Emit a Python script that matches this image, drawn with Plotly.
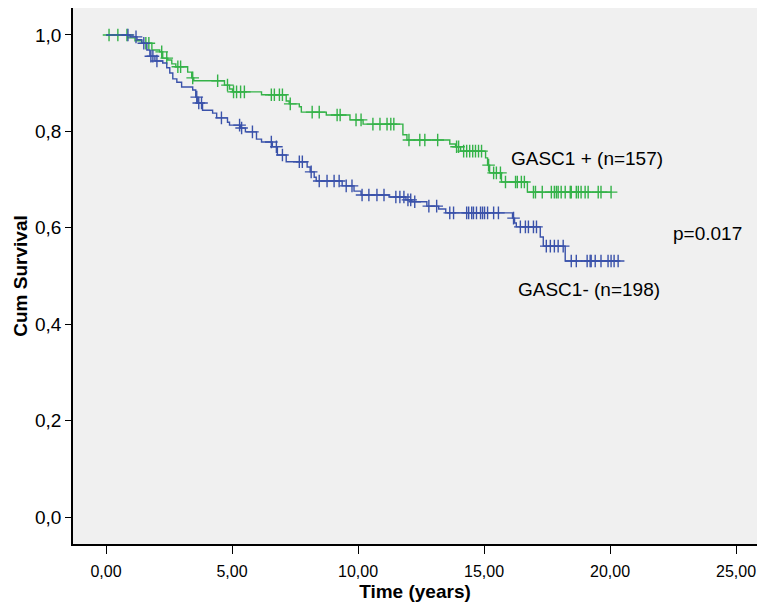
import numpy as np
import plotly.graph_objects as go

# GASC1 + (n=157): Kaplan-Meier step points (time in years, cumulative survival)
pos_time = [0.0, 0.87, 1.15, 1.42, 1.82, 2.13, 2.25, 2.45, 2.61, 2.77, 3.24, 3.40, 3.48,
            4.70, 4.90, 5.02, 6.17, 7.15, 7.27, 7.67, 7.75, 8.74, 9.68, 10.20, 11.78, 11.94,
            13.64, 13.87, 14.07, 15.06, 15.14, 15.22, 15.69, 16.72]
pos_surv = [1.0, 0.994, 0.988, 0.983, 0.969, 0.965, 0.952, 0.948, 0.940, 0.934, 0.923, 0.911, 0.905,
            0.896, 0.888, 0.882, 0.876, 0.863, 0.857, 0.851, 0.840, 0.834, 0.824, 0.815, 0.793, 0.782,
            0.774, 0.768, 0.759, 0.745, 0.730, 0.714, 0.695, 0.674]
pos_censored = [0.12, 0.47, 0.83, 1.58, 1.70, 2.21, 2.41, 2.85, 2.96, 3.44, 4.43, 4.82, 5.06, 5.18,
                5.34, 5.49, 6.56, 6.68, 6.88, 7.00, 7.31, 8.18, 8.46, 9.17, 9.29, 9.92, 10.12, 10.59,
                10.87, 11.15, 11.30, 11.42, 12.02, 12.45, 12.65, 13.16, 13.91, 13.99, 14.19, 14.31,
                14.43, 14.55, 14.66, 14.78, 14.90, 15.18, 15.38, 15.49, 15.65, 15.85, 16.25, 16.32,
                16.48, 16.60, 16.96, 17.04, 17.31, 17.67, 17.79, 17.87, 17.94, 18.06, 18.22, 18.42,
                18.46, 18.66, 18.74, 18.85, 19.01, 19.13, 19.53, 19.64, 20.04]

# GASC1- (n=198)
neg_time = [0.0, 0.95, 1.23, 1.42, 1.62, 1.74, 1.94, 2.25, 2.41, 2.53, 2.65, 2.81, 3.00, 3.44,
            3.56, 3.64, 3.83, 4.23, 4.39, 4.82, 4.90, 5.34, 5.53, 5.97, 6.17, 6.60, 6.80, 7.15,
            7.98, 8.10, 8.26, 8.34, 9.37, 9.84, 10.12, 11.23, 11.90, 12.13, 12.73, 13.20, 13.48,
            16.13, 16.21, 16.28, 17.23, 17.35, 18.22]
neg_surv = [1.0, 0.996, 0.990, 0.983, 0.969, 0.956, 0.946, 0.942, 0.932, 0.921, 0.909, 0.902, 0.892, 0.886,
            0.871, 0.859, 0.844, 0.838, 0.828, 0.819, 0.813, 0.807, 0.799, 0.784, 0.778, 0.768, 0.751, 0.737,
            0.726, 0.716, 0.705, 0.697, 0.687, 0.676, 0.668, 0.664, 0.658, 0.654, 0.645, 0.639, 0.631,
            0.620, 0.610, 0.602, 0.581, 0.562, 0.531]
neg_censored = [0.87, 1.19, 1.50, 1.78, 1.86, 2.02, 3.60, 3.68, 3.79, 4.58, 5.30, 5.38, 5.81, 6.56,
                6.76, 7.00, 7.67, 7.79, 8.14, 8.46, 8.77, 9.05, 9.25, 9.53, 9.76, 10.16, 10.43, 10.75,
                11.03, 11.50, 11.66, 11.82, 11.98, 12.09, 12.25, 12.81, 13.12, 13.64, 13.79, 14.31,
                14.39, 14.51, 14.58, 14.70, 14.86, 14.94, 15.02, 15.14, 15.38, 15.57, 16.17, 16.44,
                16.64, 16.76, 16.96, 17.08, 17.47, 17.63, 17.79, 17.94, 18.14, 18.46, 18.66, 19.09,
                19.21, 19.25, 19.41, 19.64, 19.92, 20.04, 20.16, 20.32]

x_tickvals = [0, 5, 10, 15, 20, 25]
x_ticktext = ["0,00", "5,00", "10,00", "15,00", "20,00", "25,00"]
y_tickvals = [0.0, 0.2, 0.4, 0.6, 0.8, 1.0]
y_ticktext = ["0,0", "0,2", "0,4", "0,6", "0,8", "1,0"]

GREEN = "rgb(52,178,72)"
BLUE = "rgb(58,82,170)"


def km_value(times, survs, t):
    idx = np.searchsorted(np.array(times), t, side="right") - 1
    return float(np.array(survs)[idx])


def add_group(fig, times, survs, censored, color):
    end_t = max(times[-1], max(censored))
    xs = list(times) + [end_t]
    ys = list(survs) + [survs[-1]]
    fig.add_trace(go.Scatter(x=xs, y=ys, mode="lines", line=dict(color=color, width=1.4, shape="hv"),
                             hoverinfo="skip", showlegend=False))
    cy = [km_value(times, survs, t) for t in censored]
    fig.add_trace(go.Scatter(x=censored, y=cy, mode="markers",
                             marker=dict(symbol="cross-thin", size=9, line=dict(color=color, width=1.4)),
                             hoverinfo="skip", showlegend=False))


fig = go.Figure()
add_group(fig, pos_time, pos_surv, pos_censored, GREEN)
add_group(fig, neg_time, neg_surv, neg_censored, BLUE)

font_main = "Liberation Sans, Arial, sans-serif"

fig.add_annotation(x=15.97, y=0.743, text="GASC1 + (n=157)", showarrow=False, xanchor="left",
                   yanchor="middle", font=dict(family=font_main, size=19, color="black"))
fig.add_annotation(x=16.25, y=0.471, text="GASC1- (n=198)", showarrow=False, xanchor="left",
                   yanchor="middle", font=dict(family=font_main, size=19, color="black"))
fig.add_annotation(x=22.41, y=0.589, text="p=0.017", showarrow=False, xanchor="left",
                   yanchor="middle", font=dict(family=font_main, size=19, color="black"))

fig.update_layout(
    width=757, height=604,
    margin=dict(l=73, r=0, t=8, b=60),
    paper_bgcolor="white", plot_bgcolor="#f0f0f0",
    xaxis=dict(range=[-1.31, 25.83], tickvals=x_tickvals, ticktext=x_ticktext, showgrid=False,
               zeroline=False, showline=True, linecolor="black", linewidth=1.5, ticks="outside",
               ticklen=8, tickcolor="black", tickwidth=1.2, ticklabeloverflow="allow",
               automargin=False, ticklabelstandoff=4,
               tickfont=dict(family=font_main, size=16, color="black"),
               title=dict(text="<b>Time (years)</b>", standoff=6,
                          font=dict(family=font_main, size=19, color="black"))),
    yaxis=dict(range=[-0.056, 1.056], tickvals=y_tickvals, ticktext=y_ticktext, showgrid=False,
               zeroline=False, showline=True, linecolor="black", linewidth=1.5, ticks="outside",
               ticklen=6, tickcolor="black", tickwidth=1.2, automargin=False,
               tickfont=dict(family=font_main, size=19, color="black"),
               title=dict(text="<b>Cum Survival</b>", standoff=2,
                          font=dict(family=font_main, size=19, color="black"))),
)

fig.write_html("out.html")
